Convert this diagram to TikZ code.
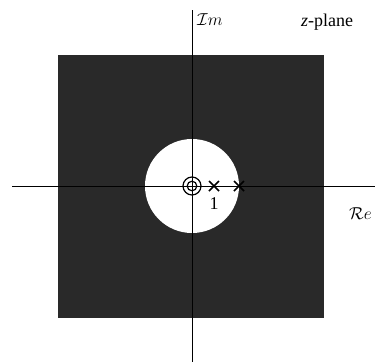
\documentclass[tikz,border=0pt]{standalone}
\usepackage{fontspec}
\setmainfont{Liberation Serif}
\usetikzlibrary{calc}
\begin{document}
\begin{tikzpicture}[x=1pt,y=-1pt,
  axis/.style={line width=1pt,black},
  roc/.style={fill=black!84,draw=none},
  hole/.style={fill=white,draw=none},
  zero/.style={line width=1.2pt,draw=black,fill=none},
  pole/.style={line width=1.5pt,black},
  lbl/.style={inner sep=0pt,font=\fontsize{18}{20}\selectfont}]
\useasboundingbox (0,0) rectangle (375,362);
% region
\fill[roc] (58,55) rectangle (324,318);
\fill[hole] (192,186) circle (47);
% axes
\coordinate (xl) at (12,186);
\coordinate (xr) at (375,186);
\coordinate (yt) at (192,10);
\coordinate (yb) at (192,362);
\draw[axis] (xl) -- (xr);
\draw[axis] (yt) -- (yb);
% zeros at origin (double)
\coordinate (o) at (192,186);
\draw[zero] (o) circle (9);
\draw[zero] (o) circle (4.8);
% poles
\coordinate (p1) at (214,186);
\coordinate (p2) at (239,186);
\draw[pole] ($(p1)+(-5,-5)$) -- ($(p1)+(5,5)$) ($(p1)+(-5,5)$) -- ($(p1)+(5,-5)$);
\draw[pole] ($(p2)+(-5,-5)$) -- ($(p2)+(5,5)$) ($(p2)+(-5,5)$) -- ($(p2)+(5,-5)$);
% labels
\node[lbl,anchor=west] (im) at (197,20) {$\mathcal{I}m$};
\node[lbl] (zp) at (327,22) {\textit{z}-plane};
\node[lbl,anchor=west] (re) at (349,214) {$\mathcal{R}e$};
\node[lbl] (one) at (214,204) {1};
\end{tikzpicture}
\end{document}
